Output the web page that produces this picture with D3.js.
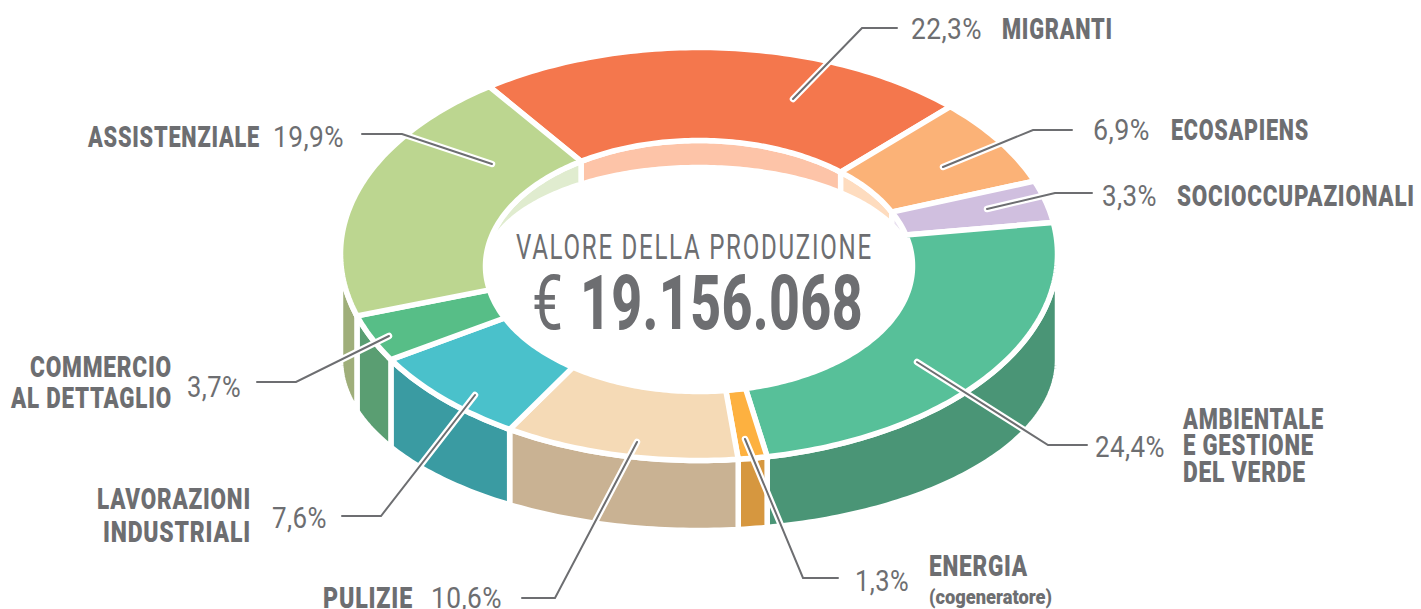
<!DOCTYPE html>
<html><head><meta charset="utf-8">
<style>
html,body{margin:0;padding:0;background:#fff;overflow:hidden}
svg{display:block}
text{fill:#6d6e71;font-family:"Roboto","Liberation Sans",sans-serif}
</style>
<script src="https://cdn.jsdelivr.net/npm/d3@7"></script>
</head><body>
<svg id="c" width="1421" height="609"></svg>
<script>
// ---- data ----
const categories = ["Migranti","Ecosapiens","Sociooccupazionali","Ambientale e gestione del verde","Energia","Pulizie","Lavorazioni industriali","Commercio al dettaglio","Assistenziale"];
const shares = [22.3,6.9,3.3,24.4,1.3,10.6,7.6,3.7,19.9];
const topColors = ["#f4774d","#fbb277","#d0bfdf","#57c099","#fdb140","#f5dab6","#4ac1cb","#57be87","#bcd690"];
const wallColors = ["none","none","none","#4a9576","#d6973f","#c9b293","#3a9ba2","#5a9e72","#9fae7a"];
const innerColors = ["#fdc4a8","#fedcbf","#e9e1f0","none","none","none","none","none","#e0eccf"];
const total = "19.156.068";

// ---- geometry of the tilted ring (ellipses seen in perspective) ----
const rad = Math.PI/180;
const startAngle = -35.8*rad;
const cx = 699;
const outerTop = {cy:254,rx:358.5,ry:206.5};
const outerBottom = {cy:360,rx:358.5,ry:170.5};
const innerTop = {cy:266,rx:213.5,ry:125.5};
const innerBottom = {cy:268,rx:213.5,ry:100.5};
const skew = a => a + rad*(-6*Math.sin(a)+2.6*Math.sin(a)*Math.cos(a)); // perspective shift of the inner edge
const pt = (e,a) => [cx+e.rx*Math.sin(a), e.cy-e.ry*Math.cos(a)];
const samples = (a,b) => { const n=Math.max(2,Math.ceil(Math.abs(b-a)/(1*rad))); return d3.range(n+1).map(i=>a+(b-a)*i/n); };
const closed = d3.line().curve(d3.curveLinearClosed);

const pie = d3.pie().sort(null).value(d=>d).startAngle(startAngle).endAngle(startAngle+2*Math.PI);
const arcs = pie(shares).map((d,i)=>({i,a0:d.startAngle,a1:d.endAngle}));

const svg = d3.select("#c");
const stroke = {stroke:"#fff",w:5.5};

// outer side wall (lower half only)
svg.append("g").selectAll("path").data(arcs.filter(d=>wallColors[d.i]!=="none")).join("path")
  .attr("d",d=>{
    const a=Math.max(d.a0,90*rad), b=Math.min(d.a1,270*rad);
    const s=samples(a,b);
    return closed([...s.map(t=>pt(outerTop,t)),...s.slice().reverse().map(t=>pt(outerBottom,t))]);
  })
  .attr("fill",d=>wallColors[d.i]).attr("stroke",stroke.stroke).attr("stroke-width",stroke.w);

// inner wall (upper half only)
svg.append("g").selectAll("path").data(arcs.filter(d=>innerColors[d.i]!=="none")).join("path")
  .attr("d",d=>{
    const a=Math.max(skew(d.a0), d.a0>180*rad?262*rad:-100*rad), b=skew(d.a1);
    const s=samples(a,b);
    return closed([...s.map(t=>pt(innerTop,t)),...s.slice().reverse().map(t=>pt(innerBottom,t))]);
  })
  .attr("fill",d=>innerColors[d.i]).attr("stroke",stroke.stroke).attr("stroke-width",stroke.w);

// top face
svg.append("g").selectAll("path").data(arcs).join("path")
  .attr("d",d=>{
    const s=samples(d.a0,d.a1), t=samples(skew(d.a0),skew(d.a1)).reverse();
    return closed([...s.map(x=>pt(outerTop,x)),...t.map(x=>pt(innerTop,x))]);
  })
  .attr("fill",d=>topColors[d.i]).attr("stroke",stroke.stroke).attr("stroke-width",stroke.w).attr("stroke-linejoin","miter");

// ---- leader lines (annotation layout) ----
const leaders = [
 [[793,99],[862,28],[897,28]],
 [[943,167],[1033,130],[1072,130]],
 [[987,209],[1055,193],[1092,193]],
 [[917,362],[1048,445],[1087,445]],
 [[745,439],[803,578],[838,578]],
 [[637,442],[555,598],[522,598]],
 [[475,395],[381,516],[342,516]],
 [[389,336],[296,382],[257,382]],
 [[492,164],[402,134],[362,134]]
];
const poly = d3.line();
const lg = svg.append("g").attr("fill","none");
lg.selectAll(".h").data(leaders).join("path").attr("d",poly).attr("stroke","#fff").attr("stroke-width",6.5).attr("stroke-linecap","round").attr("stroke-linejoin","round");
lg.selectAll(".l").data(leaders).join("path").attr("d",poly).attr("stroke","#6d6e71").attr("stroke-width",2).attr("stroke-linecap","round").attr("stroke-linejoin","miter");

// ---- text (label, left, right, baseline, size, weight, letter spacing) ----
const texts = [
 ["22,3%",911,982,39,30,400,0.5],["MIGRANTI",1002,1113,39,29,900,1],
 ["6,9%",1093,1150,140,30,400,0.5],["ECOSAPIENS",1171,1309,140,29,900,1],
 ["3,3%",1102,1157,206,30,400,0.5],["SOCIOCCUPAZIONALI",1177,1415,206,29,900,1],
 ["24,4%",1095,1165,457,30,400,0.5],["AMBIENTALE",1183,1324,429,29,900,1],["E GESTIONE",1183,1314,455,29,900,1],["DEL VERDE",1183,1306,482,29,900,1],
 ["1,3%",855,909,591,30,400,0.5],["ENERGIA",929,1028,576,29,900,1],["(cogeneratore)",929,1052,604,21,900,0],
 ["3,7%",187,241,397,30,400,0.5],["COMMERCIO",30,172,377,29,900,1],["AL DETTAGLIO",11,172,408,29,900,1],
 ["7,6%",272,327,528,30,400,0.5],["LAVORAZIONI",97,251,509,29,900,1],["INDUSTRIALI",103,251,542,29,900,1],
 ["PULIZIE",323,413,608,29,900,1],["10,6%",431,502,608,30,400,0.5],
 ["ASSISTENZIALE",88,260,147,29,900,1],["19,9%",273,344,147,30,400,0.5],
 ["VALORE DELLA PRODUZIONE",516,873,259,35,400,2.5],
 ["€",532,563,329,76,400,0],[total,580,863,329,76,800,0.5]
];
svg.append("g").selectAll("text").data(texts).join("text")
  .attr("font-size",d=>d[4]).attr("font-weight",d=>d[5]).attr("letter-spacing",d=>d[6])
  .text(d=>d[0])
  .attr("transform",function(d){
    const w=this.getComputedTextLength();
    return `translate(${d[1]},${d[3]}) scale(${(d[2]-d[1])/w},1)`;
  });
</script>
</body></html>
